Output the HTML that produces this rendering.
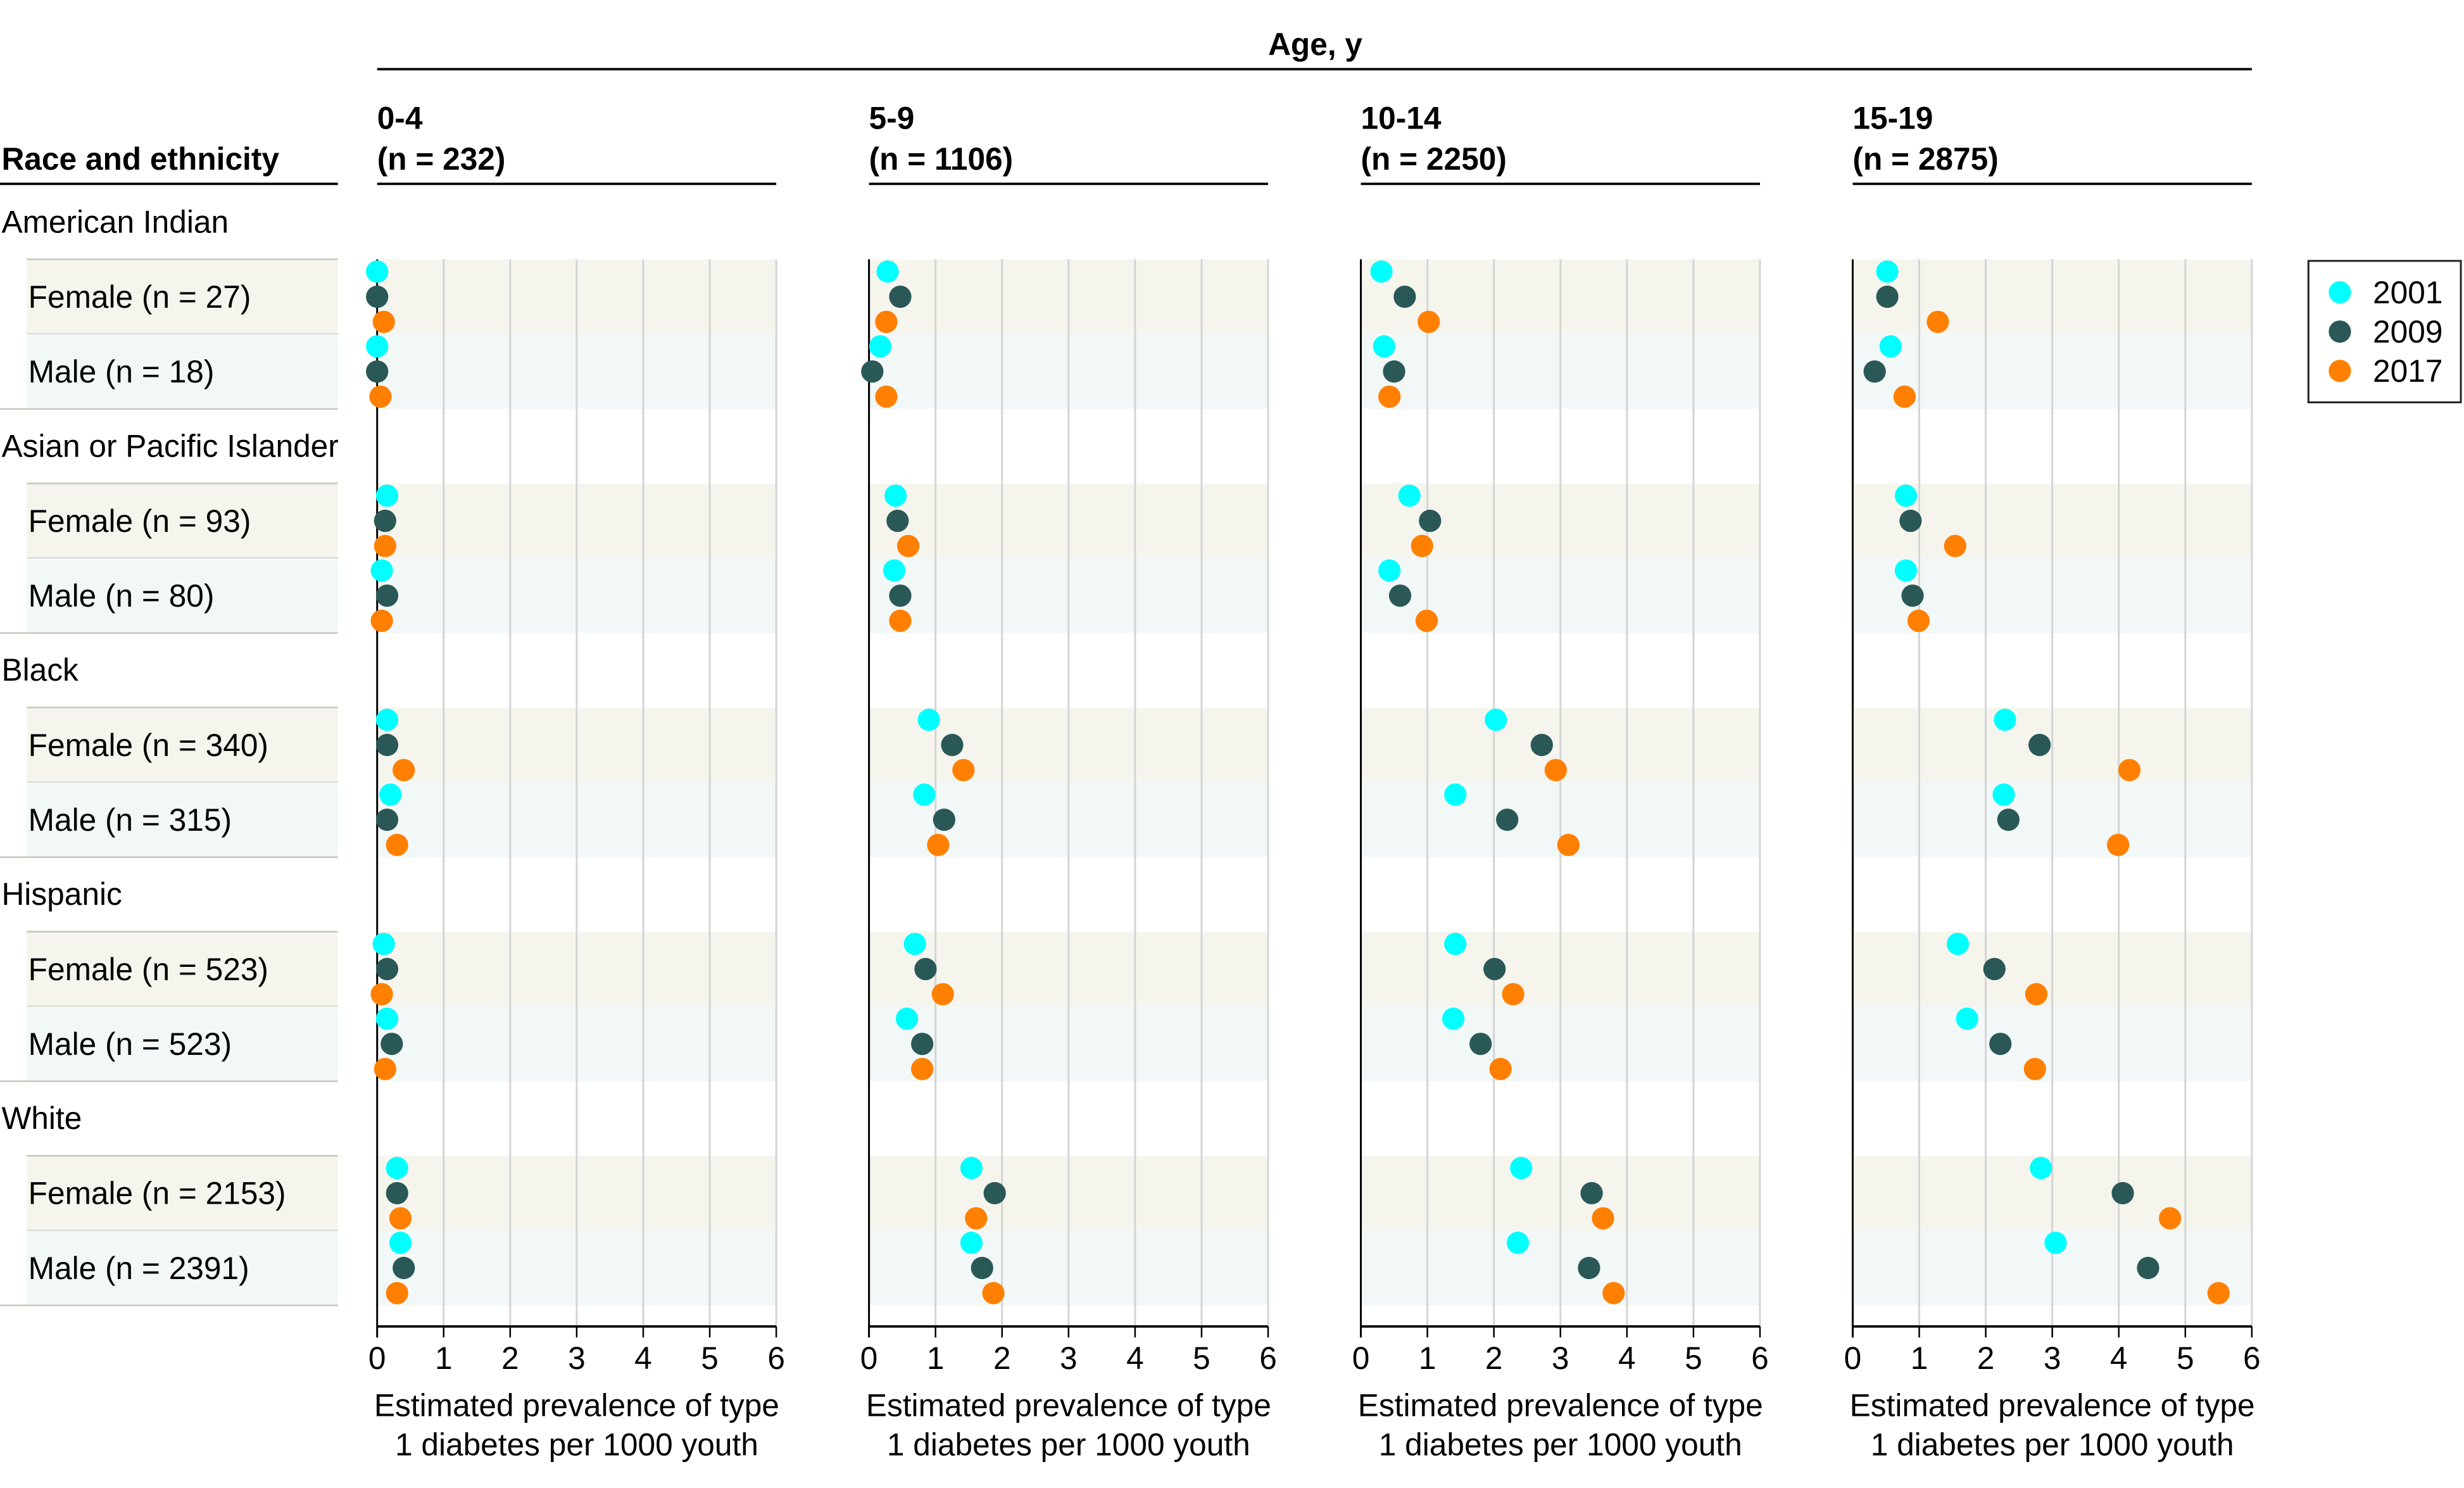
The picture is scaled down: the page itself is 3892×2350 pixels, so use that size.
<!DOCTYPE html>
<html><head><meta charset="utf-8"><style>
html,body{margin:0;padding:0;background:#fff;}
svg{display:block;}
text{font-family:"Liberation Sans Narrow","Liberation Sans",sans-serif;fill:#000;}
</style></head><body>
<svg id="chart" xmlns="http://www.w3.org/2000/svg" width="3892" height="2350" viewBox="0 0 1568 946.8" preserveAspectRatio="none"></svg>
<script>
const ageGroups = ["0-4","5-9","10-14","15-19"];
const ageNs = ["232","1106","2250","2875"];
const raceGroups = ["American Indian","Asian or Pacific Islander","Black","Hispanic","White"];
const rowLabels = ["Female (n = 27)","Male (n = 18)","Female (n = 93)","Male (n = 80)","Female (n = 340)","Male (n = 315)","Female (n = 523)","Male (n = 523)","Female (n = 2153)","Male (n = 2391)"];
const years = ["2001","2009","2017"];
const xTicks = [0,1,2,3,4,5,6];
// values[age][row] per year
const v2001 = [
 [0.0,0.0,0.15,0.07,0.15,0.2,0.1,0.15,0.3,0.35],
 [0.28,0.17,0.4,0.38,0.9,0.83,0.69,0.57,1.54,1.54],
 [0.31,0.35,0.73,0.43,2.03,1.42,1.42,1.39,2.41,2.36],
 [0.52,0.57,0.8,0.8,2.29,2.27,1.58,1.72,2.83,3.05]];
const v2009 = [
 [0.0,0.0,0.12,0.15,0.15,0.15,0.15,0.22,0.3,0.4],
 [0.47,0.05,0.43,0.47,1.25,1.13,0.85,0.8,1.89,1.7],
 [0.66,0.5,1.04,0.59,2.72,2.2,2.01,1.8,3.47,3.43],
 [0.52,0.33,0.87,0.9,2.81,2.34,2.13,2.22,4.06,4.44]];
const v2017 = [
 [0.1,0.05,0.12,0.07,0.4,0.3,0.07,0.12,0.35,0.3],
 [0.26,0.26,0.59,0.47,1.42,1.04,1.11,0.8,1.61,1.87],
 [1.02,0.43,0.92,0.99,2.93,3.12,2.29,2.1,3.64,3.8],
 [1.28,0.78,1.54,0.99,4.16,3.99,2.76,2.74,4.77,5.5]];
const series=[v2001,v2009,v2017];
const colors=["#00ffff","#2a5856","#ff8000"];

const svg=document.getElementById('chart');
const NS="http://www.w3.org/2000/svg";
function el(t,a,p){const e=document.createElementNS(NS,t);for(const k in a)e.setAttribute(k,a[k]);(p||svg).appendChild(e);return e;}
function txt(s,a){const e=el('text',a);e.textContent=s;return e;}
const panelX=[240,553,866,1179], unit=42.33, groupH=142.6, rowTop0=165, rowH=47.6;
const xScale=(p,v)=>panelX[p]+v*unit;
const rowCenter=(r)=>{const g=Math.floor(r/2),s=r%2;return rowTop0+g*groupH+s*rowH+rowH/2;};

let t=txt("Age, y",{x:837,y:35,'text-anchor':'middle','font-size':20,'font-weight':'bold'});

el('line',{x1:240,x2:1433,y1:44,y2:44,stroke:'#000','stroke-width':1.5});
t=txt("Race and ethnicity",{x:1,y:108,'font-size':20,'font-weight':'bold'});

el('line',{x1:0,x2:215,y1:117,y2:117,stroke:'#000','stroke-width':1.5});

// bands & left labels
for(let r=0;r<rowLabels.length;r++){
  const c=rowCenter(r), top=c-rowH/2;
  for(let p=0;p<4;p++){
    const b=el('rect',{x:panelX[p],y:top,width:6*unit,height:rowH,fill:r%2?'#f2f7f8':'#f5f5ee'});
    
  }
  el('rect',{x:17,y:top,width:198,height:rowH,fill:r%2?'#f2f7f8':'#f5f5ee'});
  const lb=txt(rowLabels[r],{x:18,y:c+7,'font-size':20});
  
  el('line',{x1:r%2?0:17,x2:215,y1:top+rowH,y2:top+rowH,stroke:'#c4c8b8','stroke-width':1});
  if(r%2===0) el('line',{x1:17,x2:215,y1:top,y2:top,stroke:'#c4c8b8','stroke-width':1});
}
raceGroups.forEach((g,i)=>{
  const e=txt(g,{x:1,y:148+i*groupH,'font-size':20});
  
});

const bandBottom=rowCenter(9)+rowH/2;
for(let p=0;p<4;p++){
  const x0=panelX[p];
  let h=txt(ageGroups[p],{x:x0,y:82,'font-size':20,'font-weight':'bold'});
  
  h=txt("(n = "+ageNs[p]+")",{x:x0,y:108,'font-size':20,'font-weight':'bold'});
  
  el('line',{x1:x0,x2:x0+6*unit,y1:117,y2:117,stroke:'#000','stroke-width':1.5});
  xTicks.forEach(v=>{
    const x=xScale(p,v);
    if(v>0){const g=el('line',{x1:x,x2:x,y1:rowTop0,y2:844,stroke:'#d4d4d4','stroke-width':1.2});
      }
    el('line',{x1:x,x2:x,y1:844,y2:851,stroke:'#000','stroke-width':1});
    const tl=txt(String(v),{x:x,y:871,'text-anchor':'middle','font-size':20});
    
  });
  el('line',{x1:x0,x2:x0,y1:rowTop0,y2:851,stroke:'#000','stroke-width':1.2});
  el('line',{x1:x0,x2:x0+6*unit,y1:844,y2:844,stroke:'#000','stroke-width':1.5});
  const a1=txt("Estimated prevalence of type",{x:x0+3*unit,y:901,'text-anchor':'middle','font-size':20});
  
  const a2=txt("1 diabetes per 1000 youth",{x:x0+3*unit,y:926,'text-anchor':'middle','font-size':20});
  
  for(let r=0;r<rowLabels.length;r++){
    for(let s=0;s<3;s++){
      const d=el('circle',{cx:xScale(p,series[s][p][r]),cy:rowCenter(r)+(s-1)*16,r:7.1,fill:colors[s]});
      
      
    }
  }
}
// legend
const lg=el('rect',{x:1469,y:166,width:97,height:90,fill:'#fff',stroke:'#222','stroke-width':1.2});

years.forEach((y,i)=>{
  const cy=186+i*25;
  const c=el('circle',{cx:1489,cy:cy,r:7.1,fill:colors[i]});
  
  const l=txt(y,{x:1510,y:cy+7,'font-size':20});
  
});
</script>
</body></html>
